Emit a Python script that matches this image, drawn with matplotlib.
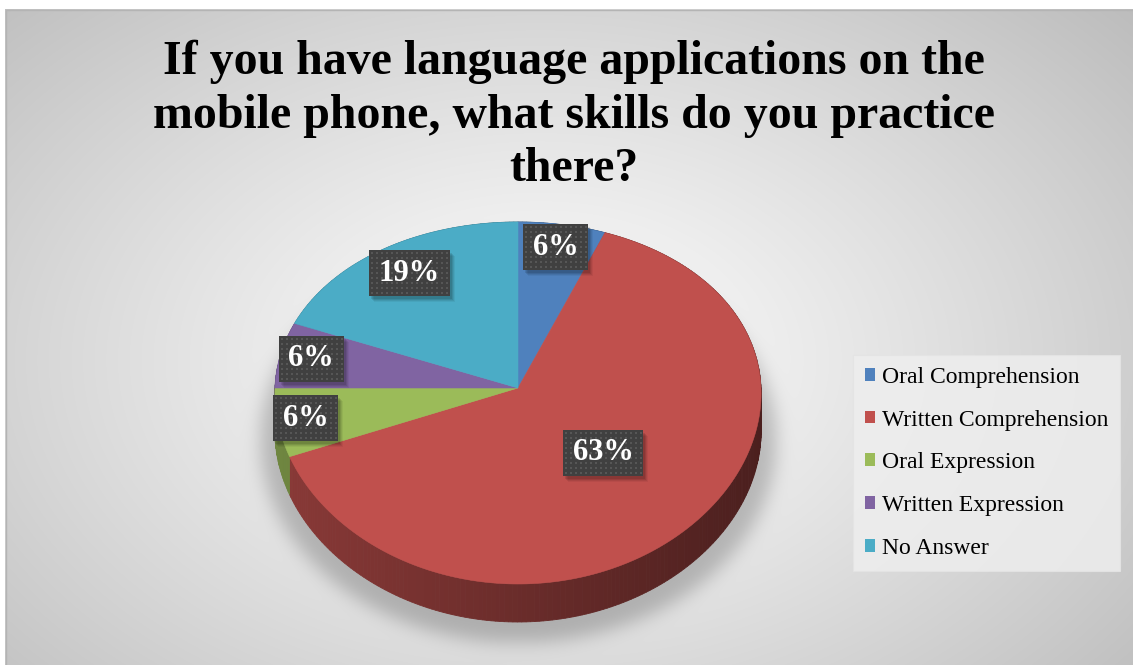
import numpy as np
import matplotlib
matplotlib.use("Agg")
import matplotlib.pyplot as plt
from matplotlib.patches import Polygon, Patch, Rectangle

# ---- data ---------------------------------------------------------------
title = "If you have language applications on the\nmobile phone, what skills do you practice\nthere?"
categories = ["Oral Comprehension", "Written Comprehension", "Oral Expression",
              "Written Expression", "No Answer"]
values = [6, 63, 6, 6, 19]
colors = ["#4F81BD", "#C0504D", "#9BBB59", "#8064A2", "#4BACC6"]

# ---- layout (pixels) ----------------------------------------------------
W, H = 1133, 665
CX, CY = 518, 388          # pie centre on screen
RX, RY, RB = 243, 181, 15  # horizontal radius, vertical radius, perspective bend
DEPTH = 38                 # thickness of the pie disc
label_radius = [0.85, 0.49, 0.885, 0.87, 0.81]

SERIF = ["Liberation Serif", "DejaVu Serif"]

fig = plt.figure(figsize=(W / 100, H / 100), dpi=100)
ax = fig.add_axes([0, 0, 1, 1])
ax.set_xlim(0, W)
ax.set_ylim(H, 0)
ax.axis("off")

# ---- background: radial gradient with a soft shadow beneath the pie -----
yy, xx = np.mgrid[0:H, 0:W].astype(float)
r = np.sqrt(((xx - 540) / 700) ** 2 + ((yy - 360) / 470) ** 2)
bg = 252 - 55 * r ** 1.2

shadow = (((xx - CX) / 258) ** 2 + ((yy - 440) / 202) ** 2) <= 1.0
shadow = shadow.astype(float)
k = np.exp(-0.5 * (np.arange(-30, 31) / 9.0) ** 2)
k /= k.sum()
shadow = np.apply_along_axis(lambda a: np.convolve(a, k, mode="same"), 0, shadow)
shadow = np.apply_along_axis(lambda a: np.convolve(a, k, mode="same"), 1, shadow)
bg = bg - 50 * shadow
bg = np.clip(bg, 0, 255) / 255.0
img = np.dstack([bg, bg, bg])
# white page margin around the chart area
img[:9, :, :] = 1.0
img[:, :5, :] = 1.0
ax.imshow(img, extent=(0, W, H, 0), interpolation="bilinear", zorder=0)
ax.plot([5.5, 5.5, W], [H, 9.5, 9.5], color="#b4b4b4", lw=1.0, zorder=1)


def proj(theta_deg, frac=1.0, dz=0.0):
    t = np.radians(theta_deg)
    u = frac * np.sin(t)
    v = -frac * np.cos(t)
    x = CX + RX * u * (1 + 0.03 * v)
    y = CY + RY * v + RB * v * v + dz
    return x, y


def shade(hex_color, f):
    c = np.array(matplotlib.colors.to_rgb(hex_color))
    return tuple(np.clip(c * f, 0, 1))


total = float(sum(values))
starts = np.cumsum([0] + values[:-1]) / total * 360.0
spans = np.array(values) / total * 360.0

# ---- side wall ----------------------------------------------------------
for s, sp, col in zip(starts, spans, colors):
    n = max(int(sp / 1.0), 2)
    th = np.linspace(s, s + sp, n + 1)
    for a0, a1 in zip(th[:-1], th[1:]):
        xa, ya = proj(np.array([a0, a1]))
        xb, yb = proj(np.array([a1, a0]), dz=DEPTH)
        um = np.sin(np.radians((a0 + a1) / 2))
        f = 0.72 - 0.33 * (um + 1) / 2
        c = shade(col, f)
        ax.add_patch(Polygon(np.c_[np.r_[xa, xb], np.r_[ya, yb]], closed=True,
                             fc=c, ec=c, lw=0.6, zorder=2))

# ---- top faces ----------------------------------------------------------
for s, sp, col in zip(starts, spans, colors):
    th = np.linspace(s, s + sp, max(int(sp), 2) + 1)
    x, y = proj(th)
    pts = np.c_[np.r_[CX, x], np.r_[CY, y]]
    ax.add_patch(Polygon(pts, closed=True, fc=col, ec=col, lw=0.4, zorder=3))

# ---- value labels: dark dotted boxes with a soft drop shadow ------------
texts = []
for s, sp, v, fr in zip(starts, spans, values, label_radius):
    lx, ly = proj(s + sp / 2, frac=fr)
    t = ax.text(lx, ly, f"{v}%", ha="center", va="center", color="white",
                fontsize=22, fontweight="bold", family=SERIF, zorder=8)
    texts.append((t, lx, ly))

fig.canvas.draw()
renderer = fig.canvas.get_renderer()
inv = ax.transData.inverted()
for t, lx, ly in texts:
    bb = t.get_window_extent(renderer)
    (x0, y1), (x1, y0) = inv.transform([[bb.x0, bb.y0], [bb.x1, bb.y1]])
    bw = (x1 - x0) + 19
    bh = 46
    bx, by = lx - bw / 2, ly - bh / 2
    for i, (dx, dy, a) in enumerate([(5, 6, 0.05), (4, 5, 0.07), (3, 4, 0.09), (2, 3, 0.1)]):
        ax.add_patch(Rectangle((bx + dx, by + dy), bw, bh, fc="black", ec="none",
                               alpha=a, zorder=5))
    ax.add_patch(Rectangle((bx, by), bw, bh, fc="#404040", ec="none", zorder=6))
    gx = np.arange(bx + 3, bx + bw - 1, 5.0)
    gy = np.arange(by + 3, by + bh - 1, 5.0)
    GX, GY = np.meshgrid(gx, gy)
    ax.scatter(GX.ravel(), GY.ravel(), s=1.6, marker="s", c="#565656",
               linewidths=0, zorder=7)

# ---- title --------------------------------------------------------------
ax.text(574, 40, title, ha="center", va="top", fontsize=34.5, fontweight="bold",
        family=SERIF, color="black", linespacing=1.27, zorder=6)

# ---- legend -------------------------------------------------------------
handles = [Patch(fc=c, ec="none") for c in colors]
leg = ax.legend(handles, categories, loc="upper left",
                bbox_to_anchor=(853 / W, 1 - 355 / H),
                prop={"family": SERIF, "size": 17}, frameon=True,
                fancybox=False, handlelength=0.45, handleheight=0.45,
                handletextpad=0.28, labelspacing=0.92, borderpad=0.5,
                borderaxespad=0)
fr = leg.get_frame()
fr.set_facecolor("#eeeeee")
fr.set_alpha(0.85)
fr.set_edgecolor("#e4e4e4")
fr.set_linewidth(0.8)
leg.set_zorder(9)

fig.savefig("out.png", dpi=100)
